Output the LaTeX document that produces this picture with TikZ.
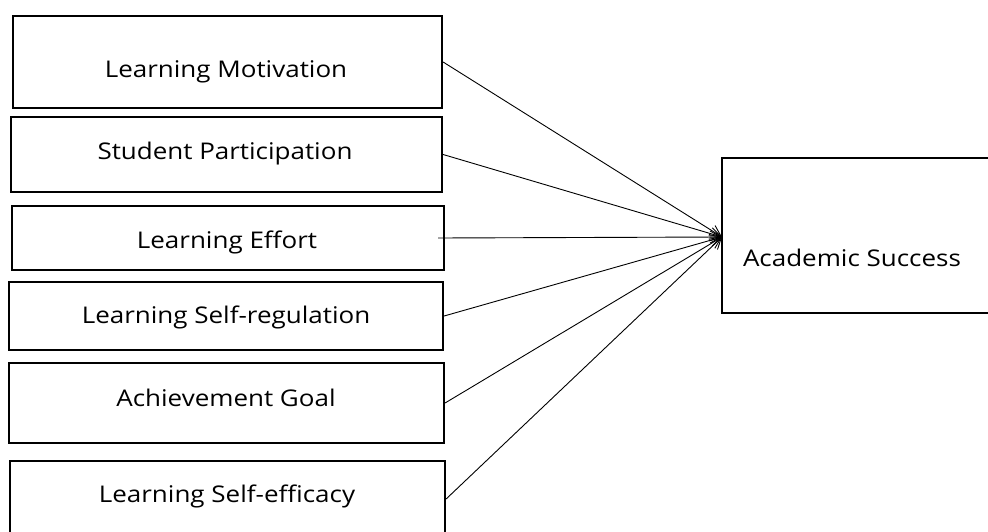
\documentclass[tikz,border=0pt]{standalone}
\usepackage{fontspec}
\setmainfont{Open Sans}
\newfontfamily\labelfont[FakeStretch=1.13]{Open Sans}
\usetikzlibrary{arrows.meta}
\begin{document}
\begin{tikzpicture}[x=1pt,y=-1pt,
  factor/.style={draw=black,line width=2.2pt,minimum width=#1,inner sep=0pt},
  label text/.style={anchor=base,font=\labelfont\fontsize{23}{27}\selectfont,inner sep=0pt},
  path arrow/.style={line width=0.9pt,-{Straight Barb[length=11pt,width=12pt,line width=0.9pt]}}]
  \useasboundingbox (0,0) rectangle (988,532);
  \clip (0,0) rectangle (988,532);
  % predictor boxes (centre, height)
  \node[factor=429pt,minimum height=92pt] (m) at (227.5,62) {};
  \node[factor=431pt,minimum height=75pt] (p) at (226.5,154.5) {};
  \node[factor=432pt,minimum height=64pt] (e) at (228,238) {};
  \node[factor=434pt,minimum height=68pt] (r) at (226,316) {};
  \node[factor=435pt,minimum height=80pt] (g) at (226.5,403) {};
  \node[factor=435pt,minimum height=76pt] (s) at (227.5,499) {};
  % outcome box
  \node[factor=280pt,minimum height=155pt] (a) at (862,235.5) {};
  % box texts
  \node[label text] (tm) at (226,78) {Learning Motivation};
  \node[label text] (tp) at (225,160) {Student Participation};
  \node[label text] (te) at (227,248) {Learning Effort};
  \node[label text] (tr) at (226,323) {Learning Self-regulation};
  \node[label text] (tg) at (226,406) {Achievement Goal};
  \node[label text] (ts) at (227,502) {Learning Self-efficacy};
  \node[label text] (ta) at (852,266) {Academic Success};
  % paths
  \coordinate (tip) at (722,237);
  \draw[path arrow] (m.east) -- (tip);
  \draw[path arrow] (p.east) -- (tip);
  \draw[path arrow] ([xshift=-7pt]e.east) -- (tip);
  \draw[path arrow] (r.east) -- (tip);
  \draw[path arrow] (g.east) -- (tip);
  \draw[path arrow] (s.east) -- (tip);
\end{tikzpicture}
\end{document}
